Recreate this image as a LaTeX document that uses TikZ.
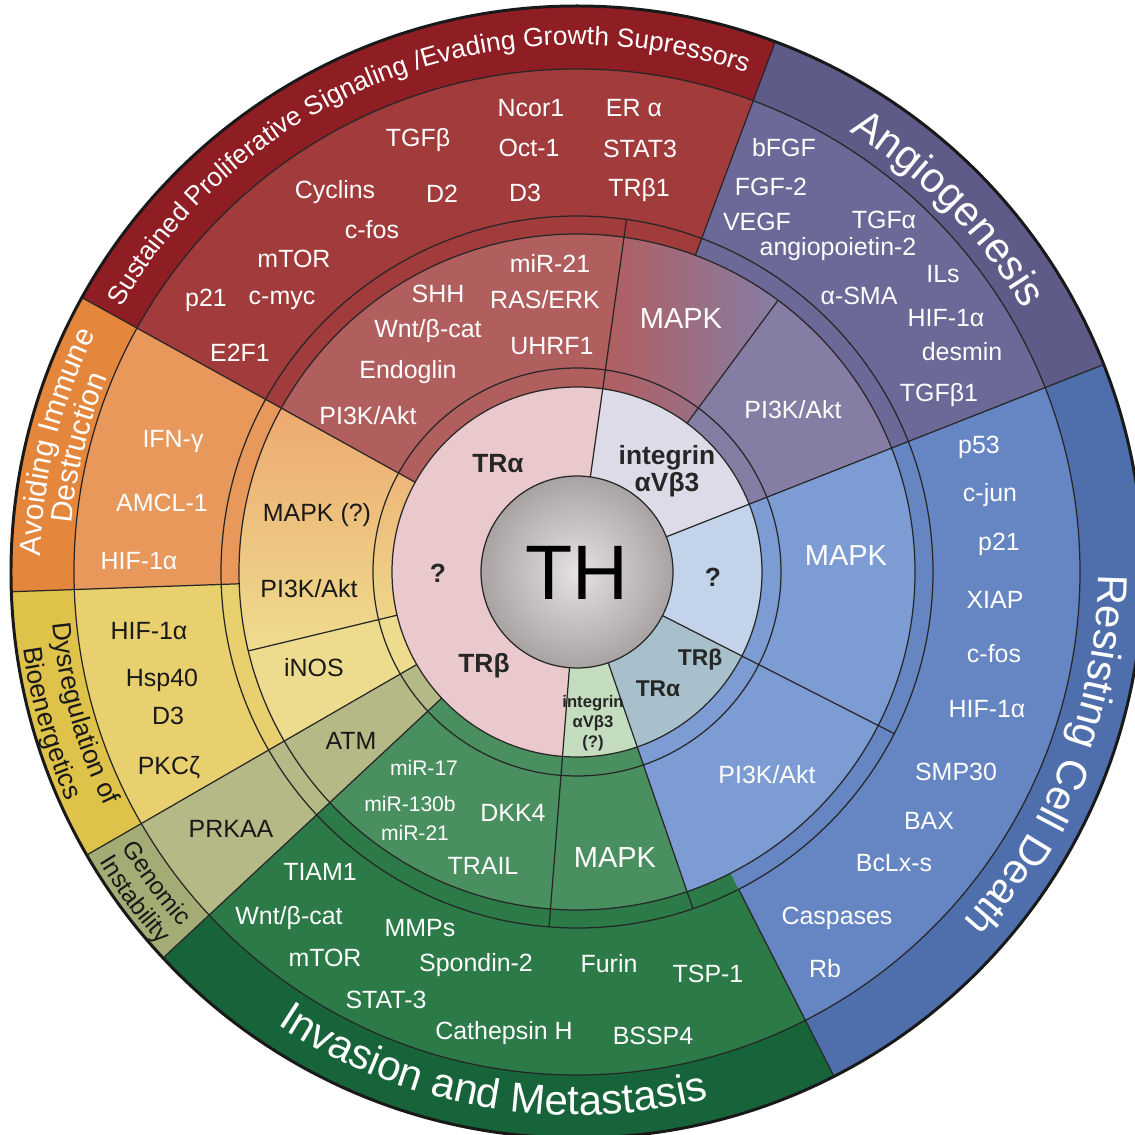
\documentclass[tikz,border=0pt]{standalone}
\usepackage{fontspec}
\setmainfont{Liberation Sans}
\usetikzlibrary{decorations.text}

\definecolor{redlab}{HTML}{8F1D24}
\definecolor{redgene}{HTML}{A23B3C}
\definecolor{redpath}{HTML}{B15E5F}
\definecolor{purlab}{HTML}{5F5B88}
\definecolor{purgene}{HTML}{6C6998}
\definecolor{purpath}{HTML}{867DA5}
\definecolor{blulab}{HTML}{4E6FAC}
\definecolor{blugene}{HTML}{6586C2}
\definecolor{blupath}{HTML}{7C9CD3}
\definecolor{grnlab}{HTML}{18643A}
\definecolor{grngene}{HTML}{2B7A47}
\definecolor{grnpath}{HTML}{4A8F60}
\definecolor{olvlab}{HTML}{A5AB74}
\definecolor{olvgene}{HTML}{B4B985}
\definecolor{ylwlab}{HTML}{DFC24A}
\definecolor{ylwgene}{HTML}{E8D06E}
\definecolor{ylwpath}{HTML}{EEDC8E}
\definecolor{orglab}{HTML}{E4863B}
\definecolor{orggene}{HTML}{E8985B}
\definecolor{orgpath}{HTML}{EDA970}
\definecolor{recpink}{HTML}{E9C9CB}
\definecolor{recint}{HTML}{DDDBE7}
\definecolor{recq}{HTML}{C3D4EA}
\definecolor{rectr}{HTML}{A7C0CC}
\definecolor{recgrn}{HTML}{C4DDBF}
\definecolor{thcore}{HTML}{E6E2E2}
\definecolor{thedge}{HTML}{A9A2A2}

\newcommand{\genefont}{\fontsize{14.2}{16}\selectfont}
\newcommand{\mapkfont}{\fontsize{16.5}{18}\selectfont}
\newcommand{\mirfont}{\fontsize{12}{14}\selectfont}
\newcommand{\recfont}{\fontsize{15}{15.5}\selectfont\bfseries}
\newcommand{\recsmall}{\fontsize{13}{14}\selectfont\bfseries}
\newcommand{\intsmall}{\fontsize{9.5}{11.4}\selectfont\bfseries}
\newcommand{\thfont}{\fontsize{44}{48}\selectfont}
\newcommand{\bigfont}{\fontsize{23.9}{26}\selectfont}
\newcommand{\labfont}{\fontsize{15}{17}\selectfont}
\newcommand{\immfont}{\fontsize{17}{19}\selectfont}
\newcommand{\genfont}{\fontsize{14}{16}\selectfont}

% filled piece of a ring: colour, start angle, end angle, inner r, outer r
\newcommand{\ringpart}[5]{%
  \fill[#1] (#2:#4) arc[start angle=#2, end angle=#3, radius=#4]
    -- (#3:#5) arc[start angle=#3, end angle=#2, radius=#5] -- cycle;}
% radial border: angle, inner r, outer r
\newcommand{\spoke}[3]{\draw[bord] (#1:#2) -- (#1:#3);}

\begin{document}
\begin{tikzpicture}[x=0.02cm, y=0.02cm,
    bord/.style={line width=0.7pt, black!85},
    gene/.style={font=\genefont, text=white, inner sep=0pt},
    genedark/.style={font=\genefont, text=black!90, inner sep=0pt},
    mapk/.style={font=\mapkfont, text=white, inner sep=0pt},
    mir/.style={font=\mirfont, text=white, inner sep=0pt},
    rec/.style={font=\recfont, text=black!85, inner sep=0pt, align=center}]

	\useasboundingbox (-577,-563) rectangle (558,572);

	% outer label ring
	\ringpart{redlab}{69.5}{151}{503}{566}
	\ringpart{purlab}{21.5}{69.5}{503}{566}
	\ringpart{blulab}{-63}{21.5}{503}{566}
	\ringpart{grnlab}{223}{297}{503}{566}
	\ringpart{olvlab}{210}{223}{503}{566}
	\ringpart{ylwlab}{182}{210}{503}{566}
	\ringpart{orglab}{151}{182}{503}{566}

	% gene ring
	\ringpart{redgene}{69.5}{151}{338}{503}
	\ringpart{purgene}{21.5}{69.5}{338}{503}
	\ringpart{blugene}{-63}{21.5}{338}{503}
	\ringpart{blugene}{-71}{-63}{338}{356}
	\ringpart{grngene}{223}{297}{338}{503}
	\ringpart{olvgene}{210}{223}{338}{503}
	\ringpart{ylwgene}{182}{210}{338}{503}
	\ringpart{orggene}{151}{182}{338}{503}

	% pathway ring
	\ringpart{redpath}{82}{151}{185}{338}
	\ringpart{left color=redpath, right color=purpath}{53.5}{82}{185}{338}
	\ringpart{purpath}{21.5}{53.5}{185}{338}
	\ringpart{blupath}{-27}{21.5}{185}{338}
	\ringpart{blupath}{-71}{-27}{185}{338}
	\ringpart{grnpath}{-94.5}{-71}{185}{338}
	\ringpart{grnpath}{223}{265.5}{185}{338}
	\ringpart{olvgene}{210}{223}{185}{338}
	\ringpart{ylwpath}{193.5}{210}{185}{338}
	\ringpart{top color=orgpath, bottom color=ylwpath}{151}{193.5}{185}{338}

	% receptor ring
	\ringpart{recpink}{82}{265.5}{96}{185}
	\ringpart{recint}{21.5}{82}{96}{185}
	\ringpart{recq}{-27}{21.5}{96}{185}
	\ringpart{rectr}{-71}{-27}{96}{185}
	\ringpart{recgrn}{-94.5}{-71}{96}{185}

	\shade[inner color=thcore, outer color=thedge] (0,0) circle (96);

	% borders
	\foreach \r in {96,185,204,338,356,503}
		\draw[bord] (0,0) circle (\r);
	\draw[line width=1.7pt, black!90] (0,0) circle (566);

	\spoke{21.5}{96}{566}
	\spoke{82}{96}{356}
	\spoke{53.5}{185}{338}
	\spoke{69.5}{338}{566}
	\spoke{-27}{96}{356}
	\spoke{-71}{96}{356}
	\spoke{-63}{356}{566}
	\spoke{265.5}{96}{356}
	\spoke{223}{185}{566}
	\spoke{210}{185}{566}
	\spoke{193.5}{185}{338}
	\spoke{182}{338}{566}
	\spoke{151}{185}{566}

	% hallmark labels
	\path[decorate, decoration={text along path, text align=center, text color=white,
		text={|\labfont|Sustained Proliferative Signaling /Evading Growth Supressors}}]
		(155.6:527) arc[start angle=155.6, end angle=65.6, radius=527];
	\path[decorate, decoration={text along path, text align=center, text color=white,
		text={|\bigfont|Angiogenesis}}]
		(69.35:518) arc[start angle=69.35, end angle=19.35, radius=518];
	\path[decorate, decoration={text along path, text align=center, text color=white,
		text={|\bigfont|Resisting Cell Death}}]
		(8.8:521) arc[start angle=8.8, end angle=-51.2, radius=521];
	\path[decorate, decoration={text along path, text align=center, text color=white,
		text={|\bigfont|Invasion and Metastasis}}]
		(225.25:543) arc[start angle=225.25, end angle=295.25, radius=543];
	\path[decorate, decoration={text along path, text align=center, text color=white,
		text={|\immfont|Avoiding Immune}}]
		(193:537) arc[start angle=193, end angle=139, radius=537];
	\path[decorate, decoration={text along path, text align=center, text color=white,
		text={|\immfont|Destruction}}]
		(193:508) arc[start angle=193, end angle=139, radius=508];
	\path[decorate, decoration={text along path, text align=center, text color=black!90,
		text={|\labfont|Dysregulation of}}]
		(176:527) arc[start angle=176, end angle=216, radius=527];
	\path[decorate, decoration={text along path, text align=center, text color=black!90,
		text={|\labfont|Bioenergetics}}]
		(176:559) arc[start angle=176, end angle=216, radius=559];
	\path[decorate, decoration={text along path, text align=center, text color=black!90,
		text={|\genfont|Genomic}}]
		(201.5:532) arc[start angle=201.5, end angle=231.5, radius=532];
	\path[decorate, decoration={text along path, text align=center, text color=black!90,
		text={|\genfont|Instability}}]
		(201.5:559) arc[start angle=201.5, end angle=231.5, radius=559];

	% sustained proliferative signaling
	\node[gene] (ncor) at (-46,464) {Ncor1};
	\node[gene] (era) at (57,464) {ER α};
	\node[gene] (tgfb) at (-159,432) {TGFβ};
	\node[gene] (oct) at (-48,424) {Oct-1};
	\node[gene] (stat) at (63,423) {STAT3};
	\node[gene] (cyc) at (-242,380) {Cyclins};
	\node[gene] (dtwo) at (-135,378) {D2};
	\node[gene] (dthree) at (-52,379) {D3};
	\node[gene] (trbone) at (62,382) {TRβ1};
	\node[gene] (cfos) at (-205,342) {c-fos};
	\node[gene] (mtor) at (-283,313) {mTOR};
	\node[gene] (pone) at (-371,272) {p21};
	\node[gene] (cmyc) at (-295,272) {c-myc};
	\node[gene] (etwo) at (-337,219) {E2F1};
	\node[gene] (mir) at (-27,309) {miR-21};
	\node[gene] (shh) at (-139,278) {SHH};
	\node[gene] (ras) at (-32,272) {RAS/ERK};
	\node[gene] (wnt) at (-149,241) {Wnt/β-cat};
	\node[gene] (uhrf) at (-25,226) {UHRF1};
	\node[gene] (endo) at (-169,200) {Endoglin};
	\node[gene] (pika) at (-209,156) {PI3K/Akt};
	\node[mapk] (mapka) at (104,253) {MAPK};

	% angiogenesis
	\node[gene] (bfgf) at (207,424) {bFGF};
	\node[gene] (fgf) at (194,385) {FGF-2};
	\node[gene] (vegf) at (180,350) {VEGF};
	\node[gene] (tgfa) at (307,352) {TGFα};
	\node[gene] (angio) at (261,323) {angiopoietin-2};
	\node[gene] (ils) at (366,298) {ILs};
	\node[gene] (asma) at (282,276) {α-SMA};
	\node[gene] (hifa) at (369,254) {HIF-1α};
	\node[gene] (desm) at (385,220) {desmin};
	\node[gene] (tgfbone) at (362,177) {TGFβ1};
	\node[gene] (pikb) at (216,162) {PI3K/Akt};

	% resisting cell death
	\node[gene] (pfif) at (402,125) {p53};
	\node[gene] (cjun) at (413,77) {c-jun};
	\node[gene] (ptwo) at (422,28) {p21};
	\node[gene] (xiap) at (418,-28) {XIAP};
	\node[gene] (cfosb) at (417,-82) {c-fos};
	\node[gene] (hifb) at (410,-137) {HIF-1α};
	\node[gene] (smp) at (379,-200) {SMP30};
	\node[gene] (bax) at (352,-249) {BAX};
	\node[gene] (bclx) at (317,-291) {BcLx-s};
	\node[gene] (casp) at (260,-346) {Caspases};
	\node[gene] (rb) at (248,-397) {Rb};
	\node[mapk] (mapkb) at (269,16) {MAPK};
	\node[gene] (pikc) at (190,-203) {PI3K/Akt};

	% invasion and metastasis
	\node[mir] (mira) at (-153,-196) {miR-17};
	\node[mir] (mirb) at (-167,-232) {miR-130b};
	\node[mir] (mirc) at (-162,-261) {miR-21};
	\node[gene] (dkk) at (-64,-241) {DKK4};
	\node[gene] (trail) at (-94,-294) {TRAIL};
	\node[mapk] (mapkc) at (38,-286) {MAPK};
	\node[gene] (tiam) at (-257,-300) {TIAM1};
	\node[gene] (wntb) at (-288,-346) {Wnt/β-cat};
	\node[gene] (mmps) at (-157,-356) {MMPs};
	\node[gene] (mtorb) at (-252,-386) {mTOR};
	\node[gene] (spon) at (-101,-393) {Spondin-2};
	\node[gene] (statb) at (-191,-428) {STAT-3};
	\node[gene] (cath) at (-73,-461) {Cathepsin H};
	\node[gene] (furin) at (32,-392) {Furin};
	\node[gene] (tsp) at (131,-402) {TSP-1};
	\node[gene] (bssp) at (76,-464) {BSSP4};

	% avoiding immune destruction
	\node[gene] (ifn) at (-404,130) {IFN-γ};
	\node[gene] (amcl) at (-415,69) {AMCL-1};
	\node[gene] (hifc) at (-438,11) {HIF-1α};
	\node[genedark] (mapkd) at (-260,57) {MAPK (?)};
	\node[genedark] (pikd) at (-268,-17) {PI3K/Akt};

	% bioenergetics and genomic instability
	\node[genedark] (hifd) at (-428,-59) {HIF-1α};
	\node[genedark] (hsp) at (-415,-108) {Hsp40};
	\node[genedark] (dthreeb) at (-409,-144) {D3};
	\node[genedark] (pkc) at (-408,-196) {PKCζ};
	\node[genedark] (inos) at (-263,-96) {iNOS};
	\node[genedark] (atm) at (-226,-169) {ATM};
	\node[genedark] (prk) at (-346,-257) {PRKAA};

	% receptors
	\node[rec] (tra) at (-79,108) {TRα};
	\node[rec] (qa) at (-139,-1) {?};
	\node[rec] (trb) at (-93,-94) {TRβ};
	\node[rec] (intg) at (90,101) {integrin\\αVβ3};
	\node[rec] (qb) at (136,-5) {?};
	\node[rec, font=\recsmall] (trbb) at (123,-88) {TRβ};
	\node[rec, font=\recsmall] (trab) at (81,-117) {TRα};
	\node[rec, font=\intsmall] (intq) at (16,-151) {integrin\\αVβ3\\(?)};
	\node[font=\thfont, inner sep=0pt] (th) at (0,-1) {TH};

\end{tikzpicture}
\end{document}
